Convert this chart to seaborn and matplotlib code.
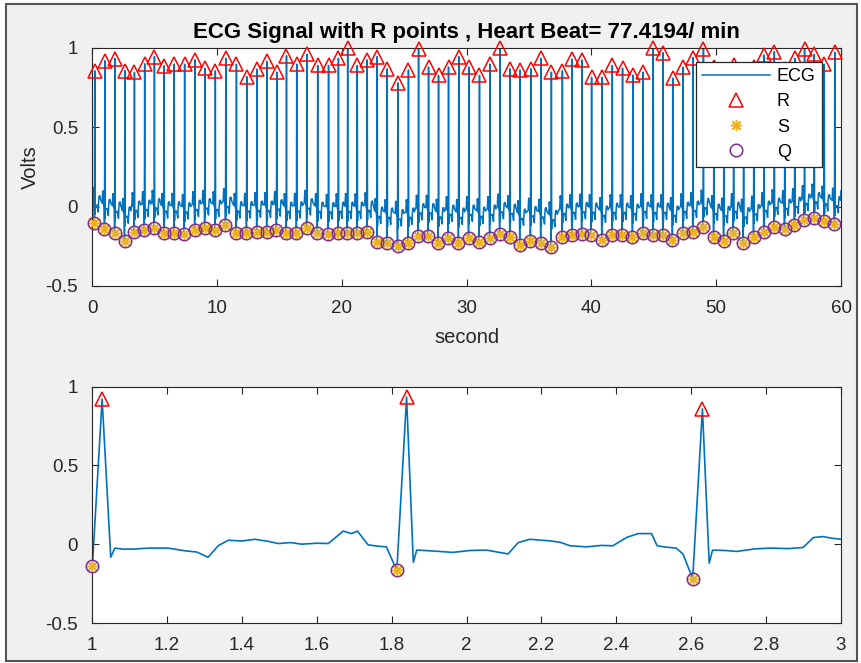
import numpy as np
import pandas as pd
import matplotlib
matplotlib.use("Agg")
import matplotlib.pyplot as plt
from matplotlib.patches import Rectangle
import seaborn as sns

# ---------------- data ----------------
r_times = [0.22, 1.027, 1.840, 2.630, 3.40, 4.22, 5.00, 5.78, 6.59, 7.42,
           8.25, 9.05, 9.88, 10.72, 11.57, 12.40, 13.22, 14.02, 14.80, 15.58,
           16.40, 17.22, 18.08, 18.95, 19.74, 20.48, 21.25, 22.05, 22.85, 23.65,
           24.50, 25.35, 26.16, 26.96, 27.76, 28.56, 29.38, 30.19, 31.04, 31.88,
           32.68, 33.49, 34.29, 35.15, 35.97, 36.80, 37.68, 38.46, 39.25, 40.02,
           40.86, 41.68, 42.50, 43.32, 44.15, 44.96, 45.75, 46.52, 47.36, 48.15,
           48.98, 49.82, 50.62, 51.40, 52.20, 53.02, 53.84, 54.66, 55.50, 56.30,
           57.08, 57.86, 58.66, 59.50]
r_values = [0.856, 0.920, 0.933, 0.858, 0.846, 0.900, 0.946, 0.888, 0.898, 0.898,
            0.925, 0.873, 0.856, 0.935, 0.898, 0.820, 0.867, 0.915, 0.848, 0.952,
            0.898, 0.960, 0.890, 0.890, 0.935, 0.998, 0.890, 0.925, 0.946, 0.868,
            0.780, 0.862, 0.995, 0.880, 0.827, 0.880, 0.946, 0.880, 0.827, 0.898,
            0.998, 0.869, 0.862, 0.869, 0.935, 0.848, 0.856, 0.930, 0.925, 0.815,
            0.815, 0.890, 0.873, 0.830, 0.848, 0.998, 0.970, 0.810, 0.880, 0.940,
            0.995, 0.880, 0.860, 0.890, 0.850, 0.880, 0.956, 0.977, 0.870, 0.935,
            0.995, 0.960, 0.898, 0.973]
q_values = [-0.102, -0.140, -0.167, -0.219, -0.158, -0.148, -0.133, -0.165, -0.165, -0.175,
            -0.148, -0.133, -0.148, -0.117, -0.165, -0.165, -0.158, -0.158, -0.144, -0.169,
            -0.165, -0.133, -0.169, -0.175, -0.169, -0.169, -0.169, -0.158, -0.221, -0.231,
            -0.248, -0.231, -0.185, -0.185, -0.227, -0.200, -0.231, -0.200, -0.221, -0.200,
            -0.173, -0.190, -0.242, -0.215, -0.227, -0.256, -0.190, -0.179, -0.173, -0.179,
            -0.210, -0.179, -0.179, -0.190, -0.169, -0.179, -0.179, -0.210, -0.169, -0.158,
            -0.131, -0.190, -0.215, -0.169, -0.227, -0.194, -0.158, -0.127, -0.138, -0.117,
            -0.085, -0.069, -0.090, -0.110]

# one-beat waveform shape (time offset from the R peak, volts)
post_r_offsets = [0.023, 0.034, 0.09, 0.18, 0.22, 0.28, 0.31, 0.34, 0.41, 0.47]
post_r_levels = [-0.09, -0.03, -0.035, -0.03, -0.045, -0.075, -0.01, 0.025, 0.028, 0.004]
pre_r_offsets = [-0.21, -0.17, -0.15, -0.13, -0.10, -0.05]
pre_r_levels = [0.004, 0.08, 0.067, 0.08, -0.004, -0.02]
q_lead = 0.026
trace_start = (0.0, 0.15)
trace_end = (60.0, 0.10)

# lower panel (1 s .. 3 s) trace between the Q/R points
zoom_t = [0.975, 1.050, 1.061, 1.085, 1.114, 1.150, 1.203, 1.248, 1.280, 1.310,
          1.337, 1.364, 1.400, 1.435, 1.470, 1.498, 1.530, 1.560, 1.600, 1.631,
          1.671, 1.693, 1.709, 1.737, 1.760, 1.786, 1.858, 1.867, 1.875, 1.920,
          1.964, 2.010, 2.054, 2.111, 2.138, 2.169, 2.222, 2.250, 2.276, 2.320,
          2.360, 2.391, 2.427, 2.458, 2.494, 2.509, 2.530, 2.560, 2.578, 2.648,
          2.657, 2.690, 2.721, 2.770, 2.810, 2.860, 2.899, 2.926, 2.952, 2.975,
          3.000, 3.020]
zoom_v = [-0.020, -0.083, -0.025, -0.032, -0.031, -0.025, -0.025, -0.042, -0.050, -0.083,
          -0.010, 0.025, 0.020, 0.031, 0.018, 0.004, 0.010, 0.000, 0.006, 0.004,
          0.083, 0.067, 0.083, -0.004, -0.012, -0.017, -0.115, -0.038, -0.038, -0.045,
          -0.052, -0.040, -0.038, -0.062, 0.010, 0.031, 0.021, 0.012, -0.010, -0.017,
          -0.008, -0.010, 0.042, 0.067, 0.067, -0.010, -0.018, -0.025, -0.062, -0.120,
          -0.038, -0.040, -0.046, -0.030, -0.025, -0.028, -0.021, 0.042, 0.048, 0.038,
          0.031, 0.030]

title_text = "ECG Signal with R points , Heart Beat= 77.4194/ min"
top_xticks = [0, 10, 20, 30, 40, 50, 60]
bottom_xticks = [1, 1.2, 1.4, 1.6, 1.8, 2, 2.2, 2.4, 2.6, 2.8, 3]
bottom_xticklabels = ["1", "1.2", "1.4", "1.6", "1.8", "2", "2.2", "2.4", "2.6", "2.8", "3"]
yticks = [-0.5, 0, 0.5, 1]
yticklabels = ["-0.5", "0", "0.5", "1"]

# ---------------- build the traces ----------------
t_full, v_full = [trace_start[0]], [trace_start[1]]
for rt, rv, qv in zip(r_times, r_values, q_values):
    shift = 0.6 * (qv + 0.17)
    for off, lvl in zip(pre_r_offsets, pre_r_levels):
        t_full.append(rt + off); v_full.append(lvl + shift)
    t_full.append(rt - q_lead); v_full.append(qv)
    t_full.append(rt); v_full.append(rv)
    for off, lvl in zip(post_r_offsets, post_r_levels):
        t_full.append(rt + off); v_full.append(lvl + shift)
t_full.append(trace_end[0]); v_full.append(trace_end[1])
full = pd.DataFrame({"t": t_full, "v": v_full})

q_times = [rt - q_lead for rt in r_times]
peaks = pd.DataFrame({"rt": r_times, "rv": r_values, "qt": q_times, "qv": q_values})

zoom_pts = list(zip(zoom_t, zoom_v))
for rt, rv, qt, qv in zip(r_times, r_values, q_times, q_values):
    if 0.95 <= rt <= 3.05:
        zoom_pts.append((qt, qv))
        zoom_pts.append((rt, rv))
zoom_pts.sort()
zoom_df = pd.DataFrame(zoom_pts, columns=["t", "v"])
peaks_zoom = peaks[(peaks.rt >= 0.95) & (peaks.rt <= 3.05)]

# ---------------- style ----------------
plt.rcParams["font.family"] = ["Liberation Sans", "DejaVu Sans"]
plt.rcParams["axes.unicode_minus"] = False

W, H = 861, 663
fig = plt.figure(figsize=(W / 100, H / 100), dpi=100, facecolor="white")
fig.patches.append(Rectangle((6 / W, 1 - 661 / H), (857 - 6) / W, (661 - 4) / H,
                             transform=fig.transFigure, facecolor="#F0F0F0",
                             edgecolor="#555555", lw=1.5, zorder=-1))

ax1 = fig.add_axes([92 / W, 1 - 286 / H, 749 / W, 238 / H])
ax2 = fig.add_axes([92 / W, 1 - 623 / H, 749 / W, 236.5 / H])

ecg_color = "#0072BD"
r_color = "#FF0000"
s_color = "#EDB120"
q_color = "#7E2F8E"
txt = "#262626"


def draw_markers(ax, df, legend):
    sns.lineplot(data=df, x="rt", y="rv", ax=ax, linestyle="none", marker="^",
                 markersize=10, markerfacecolor="none", markeredgecolor=r_color,
                 markeredgewidth=1.1, color=r_color, clip_on=False, zorder=4,
                 label="R" if legend else None, estimator=None)
    sns.lineplot(data=df, x="qt", y="qv", ax=ax, linestyle="none", marker=(8, 2, 0),
                 markersize=8, markeredgecolor=s_color, markeredgewidth=1.1,
                 color=s_color, clip_on=False, zorder=4,
                 label="S" if legend else None, estimator=None)
    sns.lineplot(data=df, x="qt", y="qv", ax=ax, linestyle="none", marker="o",
                 markersize=9, markerfacecolor="none", markeredgecolor=q_color,
                 markeredgewidth=1.1, color=q_color, clip_on=False, zorder=4,
                 label="Q" if legend else None, estimator=None)


# top panel
sns.lineplot(data=full, x="t", y="v", ax=ax1, sort=False, estimator=None,
             color=ecg_color, lw=1.1, label="ECG", zorder=2)
draw_markers(ax1, peaks, True)
ax1.set_xlim(0, 60)
ax1.set_ylim(-0.5, 1)
ax1.set_xticks(top_xticks)
ax1.set_xticklabels([str(x) for x in top_xticks])
ax1.set_title(title_text, fontsize=16, fontweight="bold", pad=7, color="black")
ax1.set_xlabel("second", fontsize=14.5, color=txt, labelpad=8)
ax1.set_ylabel("Volts", fontsize=14.5, color=txt, labelpad=4)

# bottom panel
sns.lineplot(data=zoom_df, x="t", y="v", ax=ax2, sort=False, estimator=None,
             color=ecg_color, lw=1.2, zorder=2)
draw_markers(ax2, peaks_zoom, False)
ax2.set_xlim(1, 3)
ax2.set_ylim(-0.5, 1)
ax2.set_xticks(bottom_xticks)
ax2.set_xticklabels(bottom_xticklabels)
ax2.set_xlabel("")
ax2.set_ylabel("")

for ax in (ax1, ax2):
    ax.set_facecolor("white")
    ax.set_yticks(yticks)
    ax.set_yticklabels(yticklabels)
    for sp in ax.spines.values():
        sp.set_visible(True)
        sp.set_color(txt)
        sp.set_linewidth(0.8)
    ax.tick_params(direction="in", top=True, right=True, length=5, width=0.8,
                   colors=txt, labelsize=13.5, pad=10)
    ax.grid(False)

leg = ax1.legend(loc="upper right", bbox_to_anchor=(0.9746, 0.941),
                 bbox_transform=ax1.transAxes, borderaxespad=0, fontsize=13,
                 frameon=True, fancybox=False, framealpha=1, edgecolor=txt,
                 handlelength=3.8, handletextpad=0.35, labelspacing=0.45,
                 borderpad=0.35)
leg.get_frame().set_linewidth(0.9)
leg.set_zorder(10)

fig.savefig("out.png", dpi=100, facecolor=fig.get_facecolor())
